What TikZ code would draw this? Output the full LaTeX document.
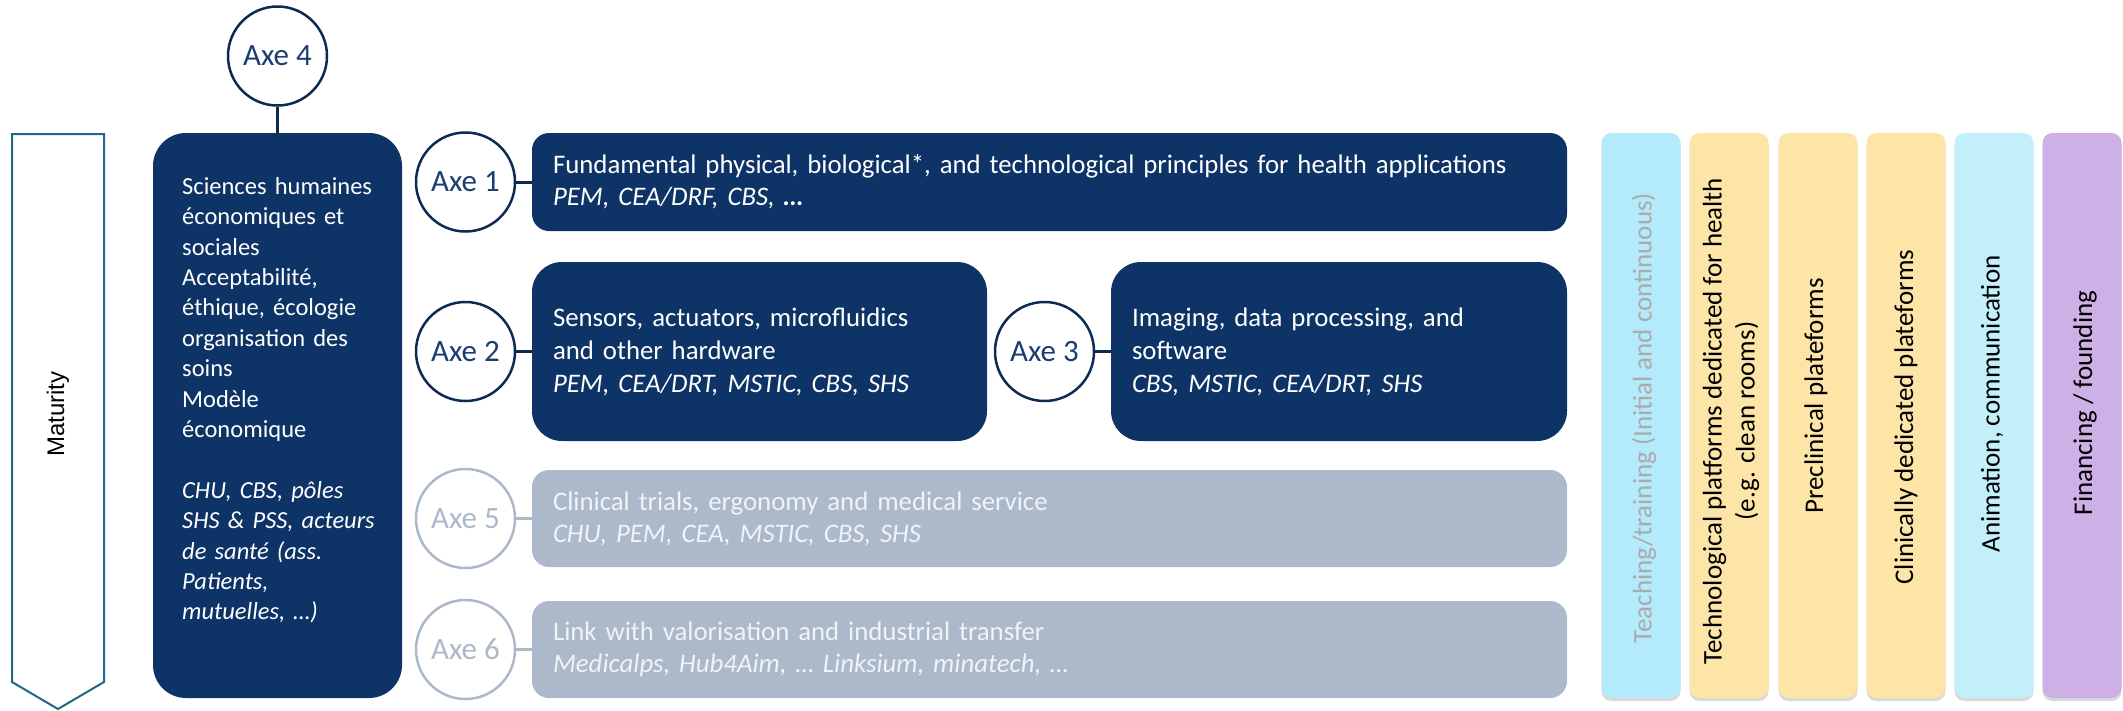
\documentclass[tikz,border=0pt]{standalone}
\usepackage{fontspec}
\setmainfont{Carlito}
\newfontfamily\arialfont{Liberation Sans}
\usepackage{xcolor}
\usetikzlibrary{positioning,shadows}
\definecolor{axenavy}{HTML}{0E3366}
\definecolor{circline}{HTML}{0D2A52}
\definecolor{circtext}{HTML}{1B3D72}
\definecolor{axegrey}{HTML}{ACB9CA}
\definecolor{greytext}{HTML}{F0F3F7}
\definecolor{matline}{HTML}{1E6987}
\definecolor{teachblue}{HTML}{B3EAFC}
\definecolor{platyellow}{HTML}{FDE5A7}
\definecolor{animblue}{HTML}{C3EFFB}
\definecolor{finpurple}{HTML}{CDB1E6}
\definecolor{teachtext}{HTML}{ABABAB}
\tikzset{%
	axecircle/.style  = {draw=circline, circle, line width=2.5pt, fill=white, text=circtext, minimum size=99pt, inner sep=0pt, font=\fontsize{31}{31}\selectfont},
	axecircgrey/.style= {axecircle, draw=axegrey, text=axegrey},
	axebox/.style     = {rectangle, rounded corners=17pt, fill=axenavy, text=white, align=left, inner xsep=21pt, inner ysep=0pt, font=\fontsize{26.8}{32}\selectfont},
	axeboxgrey/.style = {axebox, fill=axegrey, text=greytext},
	link/.style       = {line width=3pt, circline},
	linkgrey/.style   = {line width=3pt, axegrey},
	colbox/.style     = {rectangle, rounded corners=10pt, minimum width=79pt, minimum height=565pt, inner sep=0pt, drop shadow={shadow xshift=0pt, shadow yshift=-3pt, opacity=0.3}},
	coltext/.style    = {rotate=90, align=center, inner sep=0pt, font=\fontsize{27}{33}\selectfont},
}
\begin{document}
\begin{tikzpicture}[x=1pt,y=-1pt]
	\useasboundingbox (0,0) rectangle (2123,710);
	% maturity arrow
	\draw[matline, line width=2pt] (12,134) -- (104,134) -- (104,682) -- (58,709) -- (12,682) -- cycle;
	\node[rotate=90, font=\arialfont\fontsize{24}{24}\selectfont] (mat) at (58,414) {Maturity};
	% axe 4
	\node[rectangle, rounded corners=33pt, fill=axenavy, minimum width=249pt, minimum height=565pt] (b4) at (277.5,415.5) {};
	\node[anchor=north west, inner sep=0pt, text=white, text width=200pt, align=left, font=\fontsize{24.5}{30.4}\selectfont] (t4) at (182,177) {Sciences humaines\\ économiques et\\ sociales\\ Acceptabilité,\\ éthique, écologie\\ organisation des\\ soins\\ Modèle\\ économique\\[30.4pt] \textit{CHU, CBS, pôles}\\ \textit{SHS \& PSS, acteurs}\\ \textit{de santé (ass.}\\ \textit{Patients,}\\ \textit{mutuelles, …)}};
	\node[axecircle] (ax4) at (277.5,56) {Axe 4};
	\draw[link] (ax4) -- (b4);
	% axes 1, 2, 3
	\node[axebox, text width=993pt, minimum height=98pt] (b1) at (1049.5,182) {Fundamental physical, biological*, and technological principles for health applications\\ \textit{PEM, CEA/DRF, CBS, \textbf{…}}};
	\node[axebox, rounded corners=30pt, text width=413pt, minimum height=179pt, font=\fontsize{26.8}{33}\selectfont] (b2) at (759.5,351.5) {Sensors, actuators, microfluidics\\ and other hardware\\ \textit{PEM, CEA/DRT, MSTIC, CBS, SHS}};
	\node[axebox, rounded corners=30pt, text width=414pt, minimum height=179pt, font=\fontsize{26.8}{33}\selectfont] (b3) at (1339,351.5) {Imaging, data processing, and\\ software\\ \textit{CBS, MSTIC, CEA/DRT, SHS}};
	\node[axecircle] (ax1) at (465.5,182) {Axe 1};
	\node[axecircle] (ax2) at (465.5,351.5) {Axe 2};
	\node[axecircle] (ax3) at (1044.5,351.5) {Axe 3};
	\draw[link] (ax1) -- (b1);
	\draw[link] (ax2) -- (b2);
	\draw[link] (ax3) -- (b3);
	% axes 5, 6
	\node[axeboxgrey, text width=993pt, minimum height=97pt] (b5) at (1049.5,518.5) {Clinical trials, ergonomy and medical service\\ \textit{CHU, PEM, CEA, MSTIC, CBS, SHS}};
	\node[axeboxgrey, text width=993pt, minimum height=97pt] (b6) at (1049.5,649.5) {Link with valorisation and industrial transfer\\ \textit{Medicalps, Hub4Aim, … Linksium, minatech, …}};
	\node[axecircgrey] (ax5) at (465.5,518.5) {Axe 5};
	\node[axecircgrey] (ax6) at (465.5,649.5) {Axe 6};
	\draw[linkgrey] (ax5) -- (b5);
	\draw[linkgrey] (ax6) -- (b6);
	% transverse columns
	\node[colbox, fill=teachblue] (c1) at (1641,415.5) {};
	\node[colbox, fill=platyellow] (c2) at (1729,415.5) {};
	\node[colbox, fill=platyellow] (c3) at (1818,415.5) {};
	\node[colbox, fill=platyellow] (c4) at (1906,415.5) {};
	\node[colbox, fill=animblue] (c5) at (1994,415.5) {};
	\node[colbox, fill=finpurple] (c6) at (2082,415.5) {};
	\node[coltext, text=teachtext] (ct1) at (1644,418) {Teaching/training (Initial and continuous)};
	\node[coltext] (ct2) at (1731,421) {Technological platforms dedicated for health\\ (e.g. clean rooms)};
	\node[coltext] (ct3) at (1816,396) {Preclinical plateforms};
	\node[coltext] (ct4) at (1906,417) {Clinically dedicated plateforms};
	\node[coltext] (ct5) at (1992,404) {Animation, communication};
	\node[coltext] (ct6) at (2085,403) {Financing / founding};
\end{tikzpicture}
\end{document}
